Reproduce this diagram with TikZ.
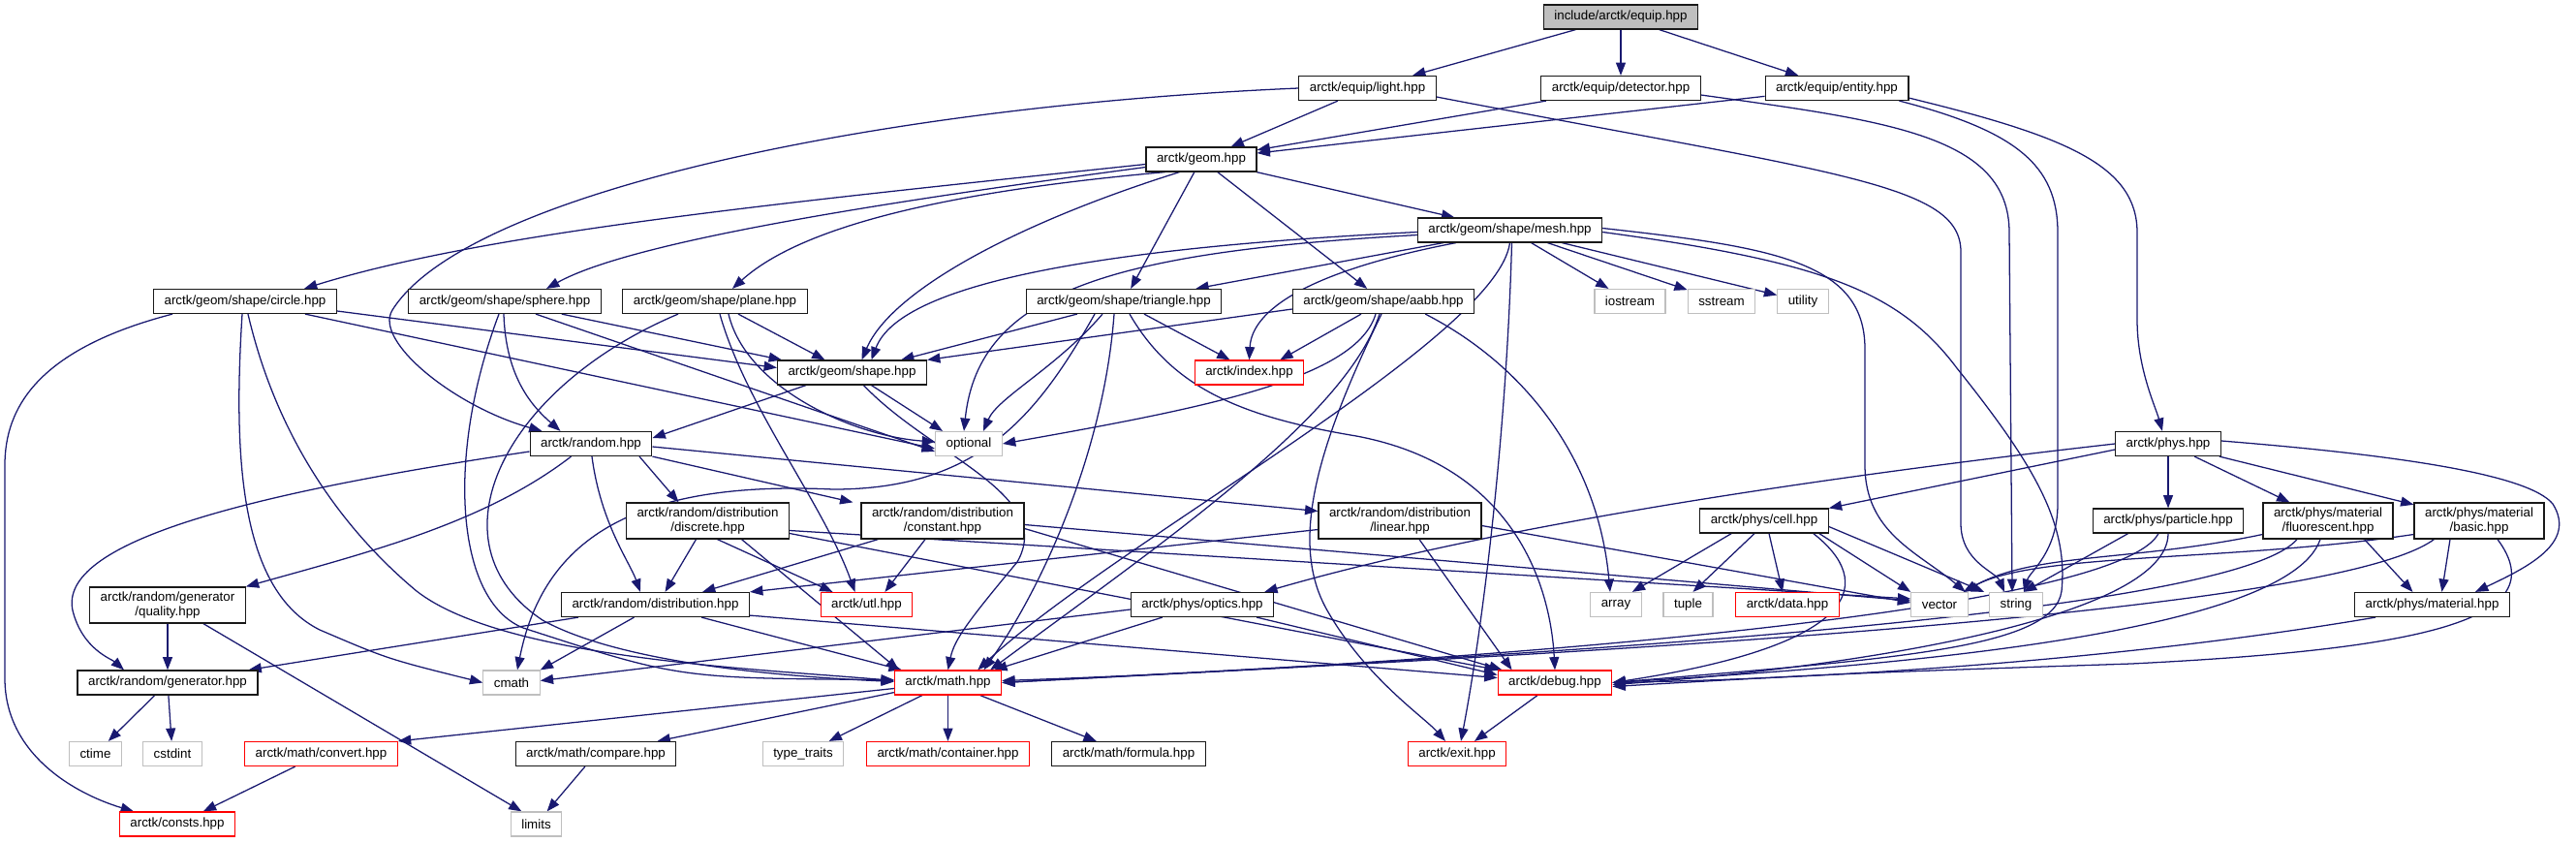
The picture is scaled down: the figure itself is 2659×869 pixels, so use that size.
\documentclass[tikz,border=0pt]{standalone}
\usepackage{fontspec}
\setmainfont{Liberation Sans}
\usetikzlibrary{arrows.meta,calc}
\definecolor{edgec}{HTML}{191970}
\definecolor{sysc}{HTML}{BFBFBF}
\pgfdeclarelayer{bg}
\pgfsetlayers{bg,main}
\begin{document}
\begin{tikzpicture}[x=0.75pt,y=-0.75pt,
  nd/.style={draw=black!90, line width=0.9pt, rectangle, inner xsep=8.25pt, inner ysep=1pt,
    minimum height=18.75pt, font=\fontsize{10}{11.25}\selectfont, align=center, fill=white},
  two/.style={minimum height=27.75pt},
  sys/.style={draw=sysc},
  trn/.style={draw=red},
  edg/.style={draw=edgec, line width=0.95pt, -{Triangle[length=10pt,width=7.5pt]}}]
\useasboundingbox (0,0) rectangle (2659,869);
% nodes
\node[nd,fill=sysc] (root) at (1673,17.5) {include/arctk/equip.hpp};
\node[nd] (light) at (1411.5,91) {arctk/equip/light.hpp};
\node[nd] (detector) at (1673,91) {arctk/equip/detector.hpp};
\node[nd] (entity) at (1896,91) {arctk/equip/entity.hpp};
\node[nd] (geom) at (1240,164.5) {arctk/geom.hpp};
\node[nd] (mesh) at (1558.5,237.5) {arctk/geom/shape/mesh.hpp};
\node[nd] (circle) at (253,311) {arctk/geom/shape/circle.hpp};
\node[nd] (sphere) at (521,311) {arctk/geom/shape/sphere.hpp};
\node[nd] (plane) at (738,311) {arctk/geom/shape/plane.hpp};
\node[nd] (triangle) at (1160,311) {arctk/geom/shape/triangle.hpp};
\node[nd] (aabb) at (1428,311) {arctk/geom/shape/aabb.hpp};
\node[nd,sys] (iostream) at (1682.5,311) {iostream};
\node[nd,sys] (sstream) at (1777,311) {sstream};
\node[nd,sys] (utility) at (1861,311) {utility};
\node[nd] (shape) at (879.5,384.5) {arctk/geom/shape.hpp};
\node[nd,trn] (index) at (1289.5,384.5) {arctk/index.hpp};
\node[nd,sys] (optional) at (1000,458) {optional};
\node[nd] (random) at (610,458) {arctk/random.hpp};
\node[nd] (phys) at (2238,458) {arctk/phys.hpp};
\node[nd,two] (discrete) at (730.5,537.5) {arctk/random/distribution\\/discrete.hpp};
\node[nd,two] (constant) at (973,537.5) {arctk/random/distribution\\/constant.hpp};
\node[nd,two] (linear) at (1445,537.5) {arctk/random/distribution\\/linear.hpp};
\node[nd] (cell) at (1821,537.5) {arctk/phys/cell.hpp};
\node[nd] (particle) at (2238,537.5) {arctk/phys/particle.hpp};
\node[nd,two] (fluor) at (2403,537.5) {arctk/phys/material\\/fluorescent.hpp};
\node[nd,two] (basic) at (2559,537.5) {arctk/phys/material\\/basic.hpp};
\node[nd,two] (quality) at (173,624.5) {arctk/random/generator\\/quality.hpp};
\node[nd] (distr) at (676.5,624) {arctk/random/distribution.hpp};
\node[nd,trn] (utl) at (894.5,624) {arctk/utl.hpp};
\node[nd] (optics) at (1241,624) {arctk/phys/optics.hpp};
\node[nd,sys] (array) at (1668,624) {array};
\node[nd,sys] (tuple) at (1742.5,624) {tuple};
\node[nd,trn] (data) at (1845,624) {arctk/data.hpp};
\node[nd,sys] (vector) at (2002,624) {vector};
\node[nd,sys] (string) at (2081,624) {string};
\node[nd] (material) at (2510.5,624) {arctk/phys/material.hpp};
\node[nd] (generator) at (173,704.5) {arctk/random/generator.hpp};
\node[nd,sys] (cmath) at (528,704.5) {cmath};
\node[nd,trn] (math) at (978.5,704.5) {arctk/math.hpp};
\node[nd,trn] (debug) at (1605,704.5) {arctk/debug.hpp};
\node[nd,sys] (ctime) at (98.5,778) {ctime};
\node[nd,sys] (cstdint) at (178,778) {cstdint};
\node[nd,trn] (convert) at (331.5,778) {arctk/math/convert.hpp};
\node[nd] (compare) at (615,778) {arctk/math/compare.hpp};
\node[nd,sys] (typetraits) at (829,778) {type\_traits};
\node[nd,trn] (container) at (978.5,778) {arctk/math/container.hpp};
\node[nd] (formula) at (1165,778) {arctk/math/formula.hpp};
\node[nd,trn] (exit) at (1504,778) {arctk/exit.hpp};
\node[nd,trn] (consts) at (183,850.5) {arctk/consts.hpp};
\node[nd,sys] (limits) at (553.5,850.5) {limits};

\begin{pgfonlayer}{bg}
% root
\draw[edg] (root) -- (light);
\draw[edg] (root) -- (detector);
\draw[edg] (root) -- (entity);
% equip
\draw[edg] (light) -- (geom);
\draw[edg] (detector) -- (geom);
\draw[edg] (entity) -- (geom);
\draw[edg] (light.west) .. controls (900,110) and (480,200) .. (405,320) .. controls (385,352) and (470,420) .. ($(random.north west)+(13,0)$);
\draw[edg] ($(light.east)+(0,9)$) .. controls (1900,180) and (2024,190) .. (2024,260) -- (2024,540) .. controls (2024,580) and (2060,590) .. ($(string.north)+(-12,0)$);
\draw[edg] ($(detector.east)+(0,7)$) .. controls (1950,125) and (2074,140) .. (2074,240) -- ($(string.north)+(-4,0)$);
\draw[edg] ($(entity.south east)+(-10,0)$) .. controls (2080,135) and (2124,170) .. (2124,240) -- (2124,520) .. controls (2124,570) and (2095,590) .. ($(string.north)+(8,0)$);
\draw[edg] ($(entity.south east)+(0,-3)$) .. controls (2130,140) and (2206,170) .. (2206,240) -- (2206,330) .. controls (2206,380) and (2225,420) .. ($(phys.north)+(-6,0)$);
% geom
\draw[edg] ($(geom.west)+(0,5)$) .. controls (800,210) and (500,240) .. ($(circle.north)+(61,0)$);
\draw[edg] ($(geom.west)+(0,8)$) .. controls (900,210) and (650,250) .. ($(sphere.north)+(43,0)$);
\draw[edg] ($(geom.south west)+(20,0)$) .. controls (950,200) and (820,240) .. ($(plane.north)+(18,0)$);
\draw[edg] (geom) -- (triangle);
\draw[edg] (geom) -- (mesh);
\draw[edg] (geom) -- (aabb);
\draw[edg] ($(geom.south west)+(35,0)$) .. controls (1050,230) and (920,300) .. ($(shape.north)+(10,0)$);
% circle
\draw[edg] ($(circle.south west)+(20,0)$) .. controls (40,360) and (5,420) .. (5,480) -- (5,700) .. controls (5,780) and (80,820) .. ($(consts.north)+(-45,0)$);
\draw[edg] ($(circle.south)+(-3,0)$) .. controls (240,480) and (250,610) .. (330,650) .. controls (400,680) .. (cmath.west);
\draw[edg] ($(circle.south)+(3,0)$) .. controls (290,470) and (370,560) .. (430,610) .. controls (520,680) and (780,690) .. ($(math.west)+(0,-2)$);
\draw[edg] ($(circle.east)+(0,10)$) -- ($(shape.west)+(0,-5)$);
\draw[edg] ($(circle.south east)+(-33,0)$) -- ($(optional.west)+(0,5)$);
% sphere
\draw[edg] ($(sphere.south east)+(-41,0)$) -- ($(shape.north west)+(5,0)$);
\draw[edg] ($(sphere.south)+(32,0)$) -- ($(optional.west)+(0,8)$);
\draw[edg] ($(sphere.south)+(-1,0)$) .. controls (522,390) and (550,420) .. ($(random.north west)+(32,0)$);
\draw[edg] ($(sphere.south)+(-6,0)$) .. controls (460,470) and (470,620) .. (540,648) .. controls (700,700) .. ($(math.west)+(0,-3)$);
% plane
\draw[edg] ($(plane.south)+(24,0)$) -- ($(shape.north)+(-28,0)$);
\draw[edg] ($(plane.south)+(14,0)$) .. controls (770,400) and (880,450) .. ($(optional.west)+(0,-2)$);
\draw[edg] ($(plane.south)+(5,0)$) .. controls (770,420) and (850,520) .. ($(utl.north)+(-12,0)$);
\draw[edg] ($(plane.south)+(-38,0)$) .. controls (520,400) and (440,560) .. (560,640) .. controls (650,690) and (850,700) .. ($(math.west)+(0,-1)$);
% triangle
\draw[edg] ($(triangle.south west)+(53,0)$) -- ($(shape.north east)+(-27,0)$);
\draw[edg] ($(triangle.south)+(21,0)$) -- ($(index.north)+(-20,0)$);
\draw[edg] ($(triangle.south)+(-22,0)$) .. controls (1090,380) and (1030,410) .. ($(optional.north)+(15,0)$);
\draw[edg] ($(triangle.south)+(-10,0)$) .. controls (1140,460) and (1080,600) .. ($(math.north)+(37,0)$);
\draw[edg] ($(triangle.south)+(6,0)$) .. controls (1210,400) and (1280,430) .. (1400,450) .. controls (1560,480) and (1600,600) .. (debug.north);
\draw[edg] ($(triangle.south)+(-30,0)$) .. controls (1070,430) and (1010,505) .. (860,505) .. controls (650,495) and (560,560) .. ($(cmath.north)+(6,0)$);
% mesh
\draw[edg] ($(mesh.south west)+(27,0)$) -- ($(triangle.north east)+(-27,0)$);
\draw[edg] ($(mesh.west)+(0,2)$) .. controls (1150,255) and (930,290) .. ($(shape.north)+(20,0)$);
\draw[edg] ($(mesh.south west)+(40,0)$) .. controls (1350,280) and (1292,320) .. (index.north);
\draw[edg] ($(mesh.west)+(0,5)$) .. controls (1150,260) and (1010,300) .. ($(optional.north)+(-5,0)$);
\draw[edg] (mesh) -- (iostream);
\draw[edg] (mesh) -- (sstream);
\draw[edg] (mesh) -- (utility);
\draw[edg] ($(mesh.east)+(0,-2)$) .. controls (1830,255) and (1925,270) .. (1925,360) -- (1925,480) .. controls (1925,550) and (1980,570) .. ($(vector.north east)+(-3,0)$);
\draw[edg] ($(mesh.east)+(0,2)$) .. controls (1880,270) and (1960,300) .. (2020,380) .. controls (2100,480) and (2135,540) .. (2128,610) .. controls (2120,670) and (1950,680) .. (debug.east);
\draw[edg] (mesh.south) .. controls (1545,350) and (1150,560) .. ($(math.north east)+(-25,0)$);
\draw[edg] ($(mesh.south)+(2,0)$) .. controls (1555,450) and (1530,650) .. ($(exit.north)+(4,0)$);
% aabb
\draw[edg] ($(aabb.west)+(0,8)$) -- (shape.north east);
\draw[edg] ($(aabb.south)+(-23,0)$) -- ($(index.north east)+(-25,0)$);
\draw[edg] ($(aabb.south)+(-8,0)$) .. controls (1400,390) and (1250,420) .. (optional.east);
\draw[edg] ($(aabb.south)+(-4,0)$) .. controls (1390,430) and (1200,560) .. ($(math.north east)+(-12,0)$);
\draw[edg] ($(aabb.south)+(-2,0)$) .. controls (1360,460) and (1330,560) .. (1370,630) .. controls (1410,700) and (1470,740) .. ($(exit.north)+(-12,0)$);
\draw[edg] ($(aabb.south east)+(-51,0)$) .. controls (1580,380) and (1650,480) .. ($(array.north)+(-6,0)$);
% shape
\draw[edg] ($(shape.south)+(20,0)$) -- ($(optional.north west)+(8,0)$);
\draw[edg] ($(shape.south west)+(30,0)$) -- ($(random.east)+(0,-6)$);
\draw[edg] ($(shape.south)+(12,0)$) .. controls (960,470) and (1090,510) .. (1050,580) .. controls (1000,640) and (985,660) .. (math.north);
% random
\draw[edg] ($(random.west)+(0,8)$) .. controls (250,510) and (60,560) .. (75,630) .. controls (85,670) and (115,680) .. ($(generator.north)+(-45,0)$);
\draw[edg] ($(random.south west)+(43,0)$) .. controls (500,540) and (380,570) .. (quality.north east);
\draw[edg] ($(random.south)+(50,0)$) -- ($(discrete.north)+(-30,0)$);
\draw[edg] (random.south east) -- ($(constant.north west)+(-8,0)$);
\draw[edg] ($(random.east)+(0,3)$) -- ($(linear.west)+(0,-10)$);
\draw[edg] ($(random.south)+(1,0)$) .. controls (620,540) and (650,580) .. ($(distr.north west)+(82,0)$);
% discrete
\draw[edg] ($(discrete.south)+(-12,0)$) -- ($(distr.north)+(10,0)$);
\draw[edg] ($(discrete.south)+(10,0)$) -- ($(utl.north west)+(13,0)$);
\draw[edg] ($(discrete.south)+(35,0)$) -- ($(math.north west)+(5,0)$);
\draw[edg] ($(discrete.east)+(0,10)$) -- ($(vector.west)+(0,-6)$);
\draw[edg] ($(discrete.east)+(0,13)$) -- (debug.north west);
% constant
\draw[edg] ($(constant.south west)+(18,0)$) -- ($(distr.north east)+(-49,0)$);
\draw[edg] ($(constant.south)+(-18,0)$) -- ($(utl.north east)+(-29,0)$);
\draw[edg] ($(constant.east)+(0,4)$) -- ($(vector.west)+(0,-4)$);
\draw[edg] ($(constant.east)+(0,8)$) -- ($(debug.north west)+(5,0)$);
% linear
\draw[edg] ($(linear.west)+(0,9)$) -- (distr.north east);
\draw[edg] ($(linear.east)+(0,5)$) -- ($(vector.west)+(0,-2)$);
\draw[edg] ($(linear.south)+(20,0)$) -- ($(debug.north west)+(15,0)$);
% distribution
\draw[edg] ($(distr.south west)+(18,0)$) -- ($(generator.north east)+(-10,0)$);
\draw[edg] ($(distr.south)+(-22,0)$) -- (cmath.north east);
\draw[edg] ($(distr.south east)+(-50,0)$) -- ($(math.north west)+(8,0)$);
\draw[edg] ($(distr.south east)+(0,-2)$) -- ($(debug.west)+(0,-5)$);
% generators
\draw[edg] (quality) -- (generator);
\draw[edg] ($(quality.south east)+(-44,0)$) -- ($(limits.north)+(-15,0)$);
\draw[edg] (generator) -- (ctime);
\draw[edg] (generator) -- (cstdint);
% optics
\draw[edg] ($(optics.west)+(0,5)$) -- ($(cmath.east)+(0,-2)$);
\draw[edg] ($(optics.south west)+(33,0)$) -- ($(math.north east)+(-8,0)$);
\draw[edg] ($(optics.south east)+(-18,0)$) -- ($(debug.west)+(0,-8)$);
% phys
\draw[edg] (phys.west) .. controls (1900,490) and (1550,540) .. ($(optics.north east)+(-10,0)$);
\draw[edg] ($(phys.west)+(0,6)$) -- (cell.north east);
\draw[edg] (phys) -- (particle);
\draw[edg] (phys) -- (fluor);
\draw[edg] (phys) -- (basic);
\draw[edg] ($(phys.east)+(0,-3)$) .. controls (2480,470) and (2610,490) .. (2635,520) .. controls (2660,560) and (2610,585) .. ($(material.north east)+(-36,0)$);
% cell
\draw[edg] ($(cell.south west)+(33,0)$) -- ($(array.north east)+(-10,0)$);
\draw[edg] ($(cell.south)+(-10,0)$) -- ($(tuple.north)+(5,0)$);
\draw[edg] ($(cell.south)+(5,0)$) -- ($(data.north)+(-5,0)$);
\draw[edg] ($(cell.south east)+(-10,0)$) -- (vector.north west);
\draw[edg] ($(cell.east)+(0,6)$) -- ($(string.north west)+(-5,0)$);
\draw[edg] ($(cell.south east)+(-16,0)$) .. controls (1935,600) and (1925,665) .. (debug.east);
% particle
\draw[edg] ($(particle.south west)+(37,0)$) -- ($(string.north east)+(-20,0)$);
\draw[edg] ($(particle.south)+(-10,0)$) .. controls (2180,640) and (1400,690) .. ($(math.east)+(0,-2)$);
\draw[edg] (particle.south) .. controls (2238,640) and (1900,690) .. ($(debug.east)+(0,2)$);
% fluorescent
\draw[edg] ($(fluor.west)+(0,14)$) .. controls (2200,580) and (2100,570) .. ($(vector.north east)+(-5,0)$);
\draw[edg] ($(fluor.south east)+(-30,0)$) -- ($(material.north)+(-20,0)$);
\draw[edg] ($(fluor.south)+(-32,0)$) .. controls (2300,640) and (1500,680) .. (math.east);
\draw[edg] ($(fluor.south)+(-8,0)$) .. controls (2360,660) and (1900,690) .. (debug.east);
% basic
\draw[edg] ($(basic.west)+(0,14)$) .. controls (2300,580) and (2100,570) .. ($(vector.north east)+(-5,0)$);
\draw[edg] ($(basic.south)+(-30,0)$) -- ($(material.north)+(10,0)$);
\draw[edg] ($(basic.south west)+(21,0)$) .. controls (2400,640) and (1500,680) .. (math.east);
\draw[edg] ($(basic.south)+(19,0)$) .. controls (2640,640) and (2500,670) .. (2200,685) .. controls (1900,695) .. ($(debug.east)+(0,4)$);
% material
\draw[edg] ($(material.south west)+(22,0)$) .. controls (2200,680) and (1900,700) .. (debug.east);
% math
\draw[edg] ($(math.west)+(0,6)$) -- (convert.north east);
\draw[edg] ($(math.south west)+(0,-3)$) -- ($(compare.north east)+(-20,0)$);
\draw[edg] (math) -- (typetraits);
\draw[edg] (math) -- (container);
\draw[edg] (math) -- (formula);
\draw[edg] (convert) -- (consts);
\draw[edg] (compare) -- (limits);
\draw[edg] (debug) -- (exit);
\end{pgfonlayer}
\end{tikzpicture}
\end{document}
